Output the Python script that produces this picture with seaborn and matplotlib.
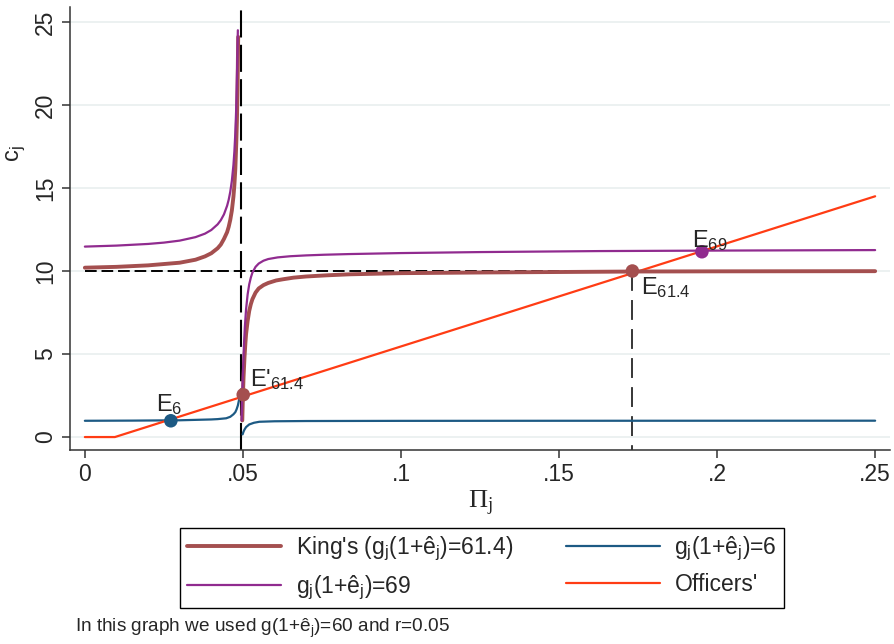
import numpy as np
import pandas as pd
import seaborn as sns
import matplotlib.pyplot as plt
from matplotlib.lines import Line2D

# ==== values ====
# King's curve g(1+e)=61.4, left and right of the asymptote
king_pi_left = [0.0, 0.01, 0.02, 0.03, 0.035, 0.038, 0.04, 0.042, 0.043, 0.044, 0.045, 0.0455, 0.046,
                0.0465, 0.047, 0.0473, 0.0476, 0.0479, 0.0481, 0.0483, 0.0485]
king_c_left = [10.2, 10.25, 10.34, 10.5, 10.68, 10.88, 11.07, 11.37, 11.59, 11.93, 12.34, 12.66, 13.08,
               13.64, 14.47, 15.18, 16.15, 17.7, 19.0, 20.9, 24.1]
king_pi_right = [0.0498, 0.05, 0.0502, 0.0505, 0.0508, 0.051, 0.0515, 0.052, 0.0525, 0.053, 0.054,
                 0.055, 0.0565, 0.058, 0.0605, 0.0626, 0.066, 0.07, 0.0765, 0.0836, 0.1, 0.125,
                 0.15, 0.175, 0.2, 0.25]
king_c_right = [1.0, 2.5, 3.6, 4.8, 5.7, 6.2, 7.0, 7.6, 8.0, 8.3, 8.7,
                8.95, 9.15, 9.28, 9.43, 9.5, 9.6, 9.67, 9.74, 9.8, 9.87, 9.91,
                9.94, 9.97, 9.98, 9.99]

# g(1+e)=69
g69_pi_left = [0.0, 0.01, 0.02, 0.025, 0.03, 0.035, 0.038, 0.04, 0.042, 0.043, 0.044, 0.045, 0.0455,
               0.046, 0.0465, 0.047, 0.0473, 0.0476, 0.0479, 0.0482, 0.0484]
g69_c_left = [11.47, 11.53, 11.63, 11.71, 11.83, 12.04, 12.25, 12.47, 12.81, 13.06, 13.41, 13.93, 14.29,
              14.77, 15.43, 16.38, 17.19, 18.3, 19.9, 22.5, 24.5]
g69_pi_right = [0.0496, 0.0498, 0.05, 0.0503, 0.0506, 0.051, 0.0515, 0.052, 0.0525, 0.053, 0.054,
                0.055, 0.0565, 0.058, 0.061, 0.065, 0.07, 0.0757, 0.0836, 0.1, 0.125, 0.1625,
                0.2, 0.25]
g69_c_right = [1.0, 2.6, 3.9, 5.4, 6.6, 7.7, 8.6, 9.2, 9.6, 9.9, 10.25,
               10.45, 10.62, 10.72, 10.82, 10.89, 10.94, 10.98, 11.02, 11.08, 11.14, 11.2,
               11.23, 11.26]

# g(1+e)=6
g6_pi_left = [0.0, 0.015, 0.03, 0.04, 0.042, 0.0447, 0.046, 0.047, 0.0476, 0.048, 0.0484, 0.0487, 0.0489]
g6_c_left = [0.98, 0.99, 1.01, 1.06, 1.08, 1.13, 1.22, 1.37, 1.5, 1.67, 1.9, 2.17, 2.35]
g6_pi_right = [0.0499, 0.0502, 0.0505, 0.051, 0.052, 0.0535, 0.0552, 0.06, 0.07, 0.1, 0.15, 0.25]
g6_c_right = [0.16, 0.33, 0.45, 0.6, 0.76, 0.86, 0.92, 0.95, 0.965, 0.975, 0.98, 0.985]

# Officers' line
off_pi = [0.0, 0.0095, 0.25]
off_c = [0.0, 0.0, 14.5]

# equilibrium points
eq_labels = [r"E$_{6}$", r"E'$_{61.4}$", r"E$_{61.4}$", r"E$_{69}$"]
eq_pi = [0.0272, 0.0501, 0.1732, 0.1952]
eq_c = [0.98, 2.55, 10.0, 11.16]

r_asym = 0.0493
c_level = 10.0

col_king = "#a44f4f"
col_69 = "#902b8f"
col_6 = "#1d5a84"
col_off = "#ff3c14"

sns.set_style("ticks")
plt.rcParams['font.family'] = ['Liberation Sans', 'DejaVu Sans']
plt.rcParams['mathtext.fontset'] = 'custom'
plt.rcParams['mathtext.rm'] = 'Liberation Sans'
plt.rcParams['mathtext.it'] = 'Liberation Sans'
plt.rcParams['mathtext.default'] = 'regular'

fig = plt.figure(figsize=(8.95, 6.44), dpi=100)
ax = fig.add_axes([70 / 895, 1 - 450 / 644, 820 / 895, 443 / 644])

# grid
for yv in [0, 5, 10, 15, 20, 25]:
    ax.axhline(yv, color="#e9efef", lw=1.2, zorder=0)

# reference dashed lines
ax.axvline(r_asym, color="black", lw=1.5, dashes=(13, 3.5), zorder=1)
ax.plot([0, 0.25], [c_level, c_level], color="black", lw=1.4, dashes=(6, 2.5), zorder=1)
ax.plot([eq_pi[2], eq_pi[2]], [c_level, -0.78], color="black", lw=1.1, dashes=(13, 6), zorder=1)

def branch(x, y, color, lw, z):
    sns.lineplot(x=x, y=y, color=color, lw=lw, ax=ax, sort=False, estimator=None,
                 zorder=z, legend=False)

branch(g6_pi_left, g6_c_left, col_6, 1.6, 2)
branch(g6_pi_right, g6_c_right, col_6, 1.6, 2)
branch(off_pi, off_c, col_off, 1.6, 3)
branch(king_pi_left, king_c_left, col_king, 2.8, 4)
branch(king_pi_right, king_c_right, col_king, 2.8, 4)
branch(g69_pi_left, g69_c_left, col_69, 1.6, 5)
branch(g69_pi_right, g69_c_right, col_69, 1.6, 5)

# equilibrium markers
pt_cols = [col_6, col_king, col_king, col_69]
sns.scatterplot(x=eq_pi, y=eq_c, hue=eq_labels, palette=pt_cols, s=95, linewidth=0,
                ax=ax, zorder=6, legend=False)

offsets = [(-1, 3), (5, 2), (6, -3), (-7, -1)]
aligns = [("center", "bottom"), ("left", "bottom"), ("left", "top"), ("left", "bottom")]
for lab, x, y, off, (ha, va) in zip(eq_labels, eq_pi, eq_c, offsets, aligns):
    ax.annotate(lab, (x, y), xytext=off, textcoords="offset points", ha=ha, va=va,
                fontsize=17, zorder=7)

# axes styling
ax.set_xlim(-0.0047, 0.2547)
ax.set_ylim(-0.78, 25.9)
ax.set_xticks([0, 0.05, 0.1, 0.15, 0.2, 0.25])
ax.set_xticklabels(["0", ".05", ".1", ".15", ".2", ".25"])
ax.set_yticks([0, 5, 10, 15, 20, 25])
ax.set_yticklabels(["0", "5", "10", "15", "20", "25"], rotation=90, va="center")
ax.tick_params(axis="both", labelsize=16.5, length=5.5, width=1.1, color="#333333", pad=4)
for s in ["top", "right"]:
    ax.spines[s].set_visible(False)
for s in ["left", "bottom"]:
    ax.spines[s].set_color("#333333")
    ax.spines[s].set_linewidth(1.1)

ax.set_xlabel(r"$\Pi_j$", fontsize=19, family="Liberation Serif", labelpad=2)
ax.set_ylabel(r"c$_\mathregular{j}$", fontsize=17, labelpad=6)
ax.yaxis.set_label_coords(-0.051, 0.67)

handles = [
    Line2D([], [], color=col_king, lw=2.8),
    Line2D([], [], color=col_69, lw=1.6),
    Line2D([], [], color=col_6, lw=1.6),
    Line2D([], [], color=col_off, lw=1.6),
]
labels = [r"King's (g$_j$(1+ê$_j$)=61.4)", r"g$_j$(1+ê$_j$)=69", r"g$_j$(1+ê$_j$)=6", "Officers'"]
leg = fig.legend(handles, labels, ncol=2, loc="center", bbox_to_anchor=(482 / 895, 1 - 568 / 644),
                 fontsize=16.5, frameon=True, fancybox=False, edgecolor="black", framealpha=1,
                 handlelength=4.1, handletextpad=0.65, columnspacing=2.3, borderpad=0.3,
                 labelspacing=0.45)
leg.get_frame().set_linewidth(1.0)

fig.text(75 / 895, 1 - 628 / 644, r"In this graph we used g(1+ê$_j$)=60 and r=0.05",
         fontsize=13.7, ha="left", va="center")

fig.savefig("out.png", dpi=100)
